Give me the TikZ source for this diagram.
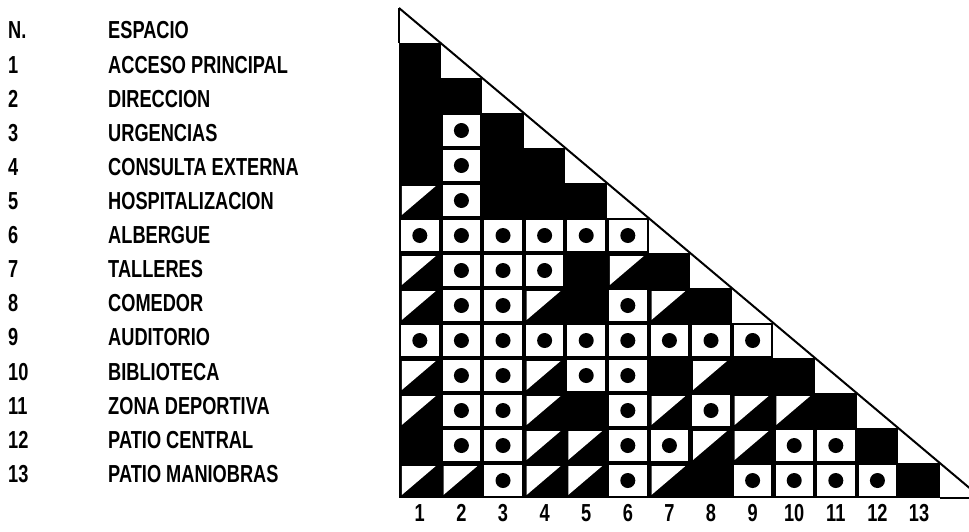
\documentclass[tikz,border=0pt]{standalone}
\usepackage{fontspec}
\setmainfont{Liberation Sans}[FakeStretch=0.74]
\usetikzlibrary{calc}

% cell kinds: B black, D dot, T half
\newcommand{\cellB}[2]{}
\newcommand{\cellD}[2]{%
  \fill[white] ({#1-1+0.05},{#2+0.06}) rectangle ({#1-0.05},{#2+0.94});
  \fill[black] ({#1-0.5},{#2+0.5}) circle (0.225cm);}
\newcommand{\cellT}[2]{%
  \fill[white] ({#1-1+0.07},{#2+0.09}) -- ({#1-0.12},{#2+0.09}) -- ({#1-1+0.07},{#2+0.91}) -- cycle;}

\begin{document}
\begin{tikzpicture}[x=0.03cm,y=-0.03cm,
  lbl/.style={font=\fontsize{21}{21}\selectfont\bfseries,inner sep=0pt}]
  \useasboundingbox (0,0) rectangle (969,532);

  % List of spaces
  \node[lbl,anchor=base west] (numhead) at (8,39) {N.};
  \node[lbl,anchor=base west] (namehead) at (108,39) {ESPACIO};
  \foreach \k/\name in {1/ACCESO PRINCIPAL,2/DIRECCION,3/URGENCIAS,
      4/CONSULTA EXTERNA,5/HOSPITALIZACION,6/ALBERGUE,7/TALLERES,
      8/COMEDOR,9/AUDITORIO,10/BIBLIOTECA,11/ZONA DEPORTIVA,
      12/PATIO CENTRAL,13/PATIO MANIOBRAS}{
    \node[lbl,anchor=base west] (num\k) at (8,{39+34.1*\k}) {\k};
    \node[lbl,anchor=base west] (name\k) at (108,{39+34.1*\k}) {\name};
  }

  % Matrix
  \begin{scope}[shift={(399,8)},x=1.248cm,y=-1.05cm]
    % black columns
    \foreach \col in {1,...,13}
      \fill (\col-1,\col) rectangle (\col,14);

    % cells
    \foreach \row/\cells in {
        1/{B},
        2/{B,B},
        3/{B,D,B},
        4/{B,D,B,B},
        5/{T,D,B,B,B},
        6/{D,D,D,D,D,D},
        7/{T,D,D,D,B,T,B},
        8/{T,D,D,T,B,D,T,B},
        9/{D,D,D,D,D,D,D,D,D},
        10/{T,D,D,T,D,D,B,T,B,B},
        11/{T,D,D,T,B,D,T,D,T,T,B},
        12/{B,D,D,T,T,D,D,T,T,D,D,B},
        13/{T,T,D,T,T,D,T,B,D,D,D,D,B}}{
      \foreach \kind [count=\col] in \cells
        {\csname cell\kind\endcsname{\col}{\row}}
    }

    % frame and diagonal
    \draw[line width=1.7pt] (0,0) -- (0,1);
    \draw[line width=1.7pt] (0,0) -- (14,14);
    \draw[line width=1.7pt] (13,14) -- (14,14);

    % column numbers
    \foreach \col in {1,...,13}
      \node[lbl,anchor=base] (col\col) at (\col-0.5,14.66) {\col};
  \end{scope}
\end{tikzpicture}
\end{document}
